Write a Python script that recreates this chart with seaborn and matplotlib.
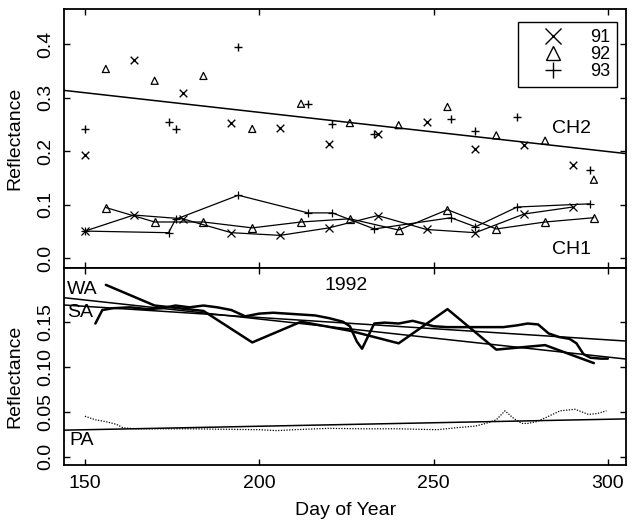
import numpy as np
import pandas as pd
import matplotlib
matplotlib.use("Agg")
import matplotlib.pyplot as plt
from matplotlib.lines import Line2D
import seaborn as sns

# ---------------- data ----------------
years = ["91", "92", "93"]
year_markers = ["x", "^", "+"]

days_91 = [150, 164, 178, 192, 206, 220, 234, 248, 262, 276, 290]
ch2_91 = [0.194, 0.371, 0.310, 0.253, 0.243, 0.214, 0.232, 0.255, 0.205, 0.211, 0.175]
ch1_91 = [0.051, 0.081, 0.074, 0.048, 0.043, 0.057, 0.080, 0.054, 0.048, 0.083, 0.096]

days_92 = [156, 170, 184, 198, 212, 226, 240, 254, 268, 282, 296]
ch2_92 = [0.354, 0.332, 0.341, 0.242, 0.289, 0.253, 0.249, 0.283, 0.230, 0.220, 0.147]
ch1_92 = [0.095, 0.068, 0.068, 0.057, 0.068, 0.074, 0.053, 0.091, 0.055, 0.068, 0.076]

days_93 = [150, 174, 176, 194, 214, 221, 233, 255, 262, 274, 295]
ch2_93 = [0.241, 0.254, 0.242, 0.395, 0.289, 0.252, 0.232, 0.261, 0.239, 0.264, 0.166]
ch1_93 = [0.051, 0.048, 0.073, 0.118, 0.085, 0.085, 0.055, 0.076, 0.059, 0.096, 0.102]

# CH2 trend line (value at the two ends of the day axis)
fit_days = [144, 305]
ch2_fit = [0.314, 0.196]

# 1992 panel
wa_days = [156, 170, 184, 198, 212, 226, 240, 254, 268, 282, 296]
wa_vals = [0.191, 0.168, 0.162, 0.127, 0.150, 0.140, 0.126, 0.164, 0.119, 0.124, 0.104]
wa_fit = [0.1767, 0.1086]

sa_days = [153, 155, 158, 163, 168, 172, 176, 180, 184, 188, 192, 196, 200, 204,
           208, 212, 216, 220, 224, 226, 228, 229.5, 231, 233, 236, 240, 244, 247,
           250, 254, 258, 262, 266, 270, 274, 277, 280, 283, 286, 289, 291, 293,
           295, 298, 300]
sa_vals = [0.148, 0.163, 0.165, 0.166, 0.164, 0.165, 0.168, 0.166, 0.168, 0.166,
           0.163, 0.156, 0.159, 0.160, 0.159, 0.158, 0.157, 0.154, 0.150, 0.145,
           0.128, 0.120, 0.132, 0.148, 0.149, 0.148, 0.151, 0.148, 0.145, 0.144,
           0.144, 0.144, 0.144, 0.144, 0.146, 0.148, 0.147, 0.137, 0.133, 0.131,
           0.126, 0.114, 0.110, 0.109, 0.109]
sa_fit = [0.1686, 0.1286]

pa_days = [150, 153, 156, 159, 161, 165, 170, 180, 190, 200, 205, 210, 220, 230,
           240, 251, 256, 262, 265, 268, 270.5, 273, 275.3, 277, 279.6, 282.5,
           286.3, 290.6, 294.4, 297, 299.6]
pa_vals = [0.045, 0.041, 0.039, 0.036, 0.032, 0.031, 0.031, 0.031, 0.0305, 0.030,
           0.029, 0.030, 0.0315, 0.031, 0.031, 0.030, 0.032, 0.034, 0.037, 0.041,
           0.051, 0.0425, 0.037, 0.037, 0.039, 0.044, 0.051, 0.0527, 0.047, 0.048,
           0.051]
pa_fit = [0.0295, 0.0420]

x_ticks = [150, 200, 250, 300]
top_yticks = [0.0, 0.1, 0.2, 0.3, 0.4]
top_ylabels = ["0.0", "0.1", "0.2", "0.3", "0.4"]
bot_yticks = [0.0, 0.05, 0.10, 0.15]
bot_ylabels = ["0.0", "0.05", "0.10", "0.15"]

# ---------------- style ----------------
sns.set_style("ticks")
plt.rcParams["font.family"] = ["Liberation Sans", "DejaVu Sans"]
plt.rcParams.update({
    "xtick.direction": "in", "ytick.direction": "in",
    "xtick.major.size": 4, "ytick.major.size": 4,
    "xtick.major.width": 1.0, "ytick.major.width": 1.0,
    "axes.linewidth": 1.3, "axes.edgecolor": "black",
    "xtick.color": "black", "ytick.color": "black",
    "text.color": "black", "axes.labelcolor": "black",
})
FS = 14

fig = plt.figure(figsize=(6.33, 5.2), dpi=100)
ax1 = fig.add_axes([0.1011, 0.4846, 0.8878, 0.498])
ax2 = fig.add_axes([0.1011, 0.1058, 0.8878, 0.3788])

series = {
    "91": (days_91, ch2_91, ch1_91),
    "92": (days_92, ch2_92, ch1_92),
    "93": (days_93, ch2_93, ch1_93),
}

for yr, mk in zip(years, year_markers):
    d, c2, c1 = series[yr]
    df = pd.DataFrame({"day": d, "ch2": c2, "ch1": c1})
    if mk == "^":
        sns.scatterplot(data=df, x="day", y="ch2", marker=mk, s=26,
                        facecolor="none", edgecolor="black", linewidth=0.9, ax=ax1)
    else:
        sns.scatterplot(data=df, x="day", y="ch2", marker=mk, s=30,
                        color="black", linewidth=1.0, ax=ax1)
    sns.lineplot(data=df, x="day", y="ch1", marker=mk, ms=5.5, mfc="none",
                 mec="black", mew=0.9, color="black", lw=0.9,
                 estimator=None, sort=False, ax=ax1)

sns.lineplot(x=fit_days, y=ch2_fit, color="black", lw=1.1, ax=ax1)

# bottom panel
sns.lineplot(x=wa_days, y=wa_vals, color="black", lw=1.8, estimator=None, sort=False, ax=ax2)
sns.lineplot(x=sa_days, y=sa_vals, color="black", lw=1.8, estimator=None, sort=False, ax=ax2)
sns.lineplot(x=pa_days, y=pa_vals, color="black", lw=0.9, ls=(0, (1, 1.2)),
             estimator=None, sort=False, ax=ax2)
for f in (wa_fit, sa_fit, pa_fit):
    sns.lineplot(x=fit_days, y=f, color="black", lw=1.1, ax=ax2)

# axes limits and ticks
for ax in (ax1, ax2):
    ax.set_xlim(144, 305.2)
    ax.set_xticks(x_ticks)
    ax.tick_params(top=True, right=True, labelsize=FS, pad=7)
    for s in ax.spines.values():
        s.set_visible(True)
        s.set_linewidth(1.3)

ax1.set_ylim(-0.018, 0.466)
ax1.set_yticks(top_yticks)
ax1.set_yticklabels(top_ylabels, rotation=90, va="center")
ax1.tick_params(labelbottom=False)
ax1.set_xlabel("")
ax1.set_ylabel("Reflectance", fontsize=FS)
ax1.yaxis.set_label_coords(-0.073, 0.5)

ax2.set_ylim(-0.0092, 0.2097)
ax2.set_yticks(bot_yticks)
ax2.set_yticklabels(bot_ylabels, rotation=90, va="center")
ax2.set_ylabel("Reflectance", fontsize=FS)
ax2.yaxis.set_label_coords(-0.073, 0.452)
ax2.set_xlabel("Day of Year", fontsize=FS)
ax2.xaxis.set_label_coords(0.501, -0.19)

# annotations
ax1.text(284, 0.242, "CH2", fontsize=FS, ha="left", va="center")
ax1.text(284, 0.017, "CH1", fontsize=FS, ha="left", va="center")
ax2.text(225, 0.190, "1992", fontsize=FS, ha="center", va="center")
ax2.text(144.8, 0.186, "WA", fontsize=FS, ha="left", va="center")
ax2.text(144.8, 0.160, "SA", fontsize=FS, ha="left", va="center")
ax2.text(145.5, 0.018, "PA", fontsize=FS, ha="left", va="center")

# legend
handles = []
for mk in year_markers:
    handles.append(Line2D([], [], ls="", marker=mk, ms=11 if mk != "^" else 10,
                          mfc="none", mec="black", mew=1.0, color="black"))
leg = ax1.legend(handles, years, loc="upper right", bbox_to_anchor=(0.984, 0.950),
                 fontsize=13, frameon=True, fancybox=False, edgecolor="black",
                 framealpha=1, borderpad=0.4, handlelength=3.0, handletextpad=0.55,
                 labelspacing=0.0, borderaxespad=0)
leg.get_frame().set_linewidth(1.0)

fig.savefig("out.png", dpi=100)
